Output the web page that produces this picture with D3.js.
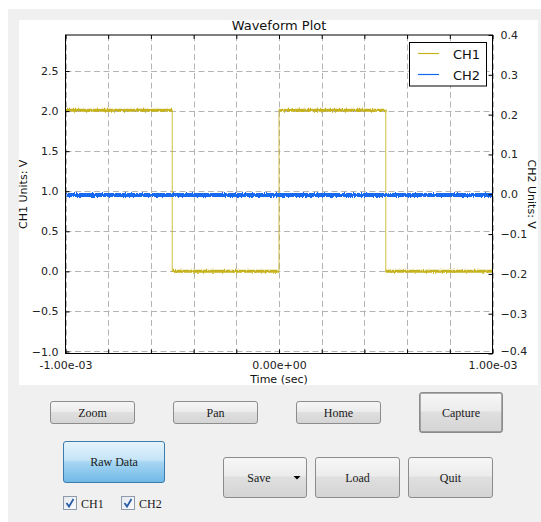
<!DOCTYPE html>
<html>
<head>
<meta charset="utf-8">
<script src="https://cdn.jsdelivr.net/npm/d3@7"></script>
<style>
  html, body { margin: 0; padding: 0; background: #ffffff; }
  svg { display: block; }
  .tick text { font-family: "DejaVu Sans", sans-serif; }
</style>
</head>
<body>
<svg id="chart" width="541" height="522"></svg>
<script>
// ---------- data ----------
const title = "Waveform Plot";
const xLabel = "Time (sec)";
const yLeftLabel = "CH1 Units: V";
const yRightLabel = "CH2 Units: V";

// CH1: square wave (edges), volts on left axis
const ch1Time  = [-1.0e-3, -5.0e-4, -5.0e-4, 0.0, 0.0, 5.0e-4, 5.0e-4, 1.0e-3, 1.0e-3];
const ch1Value = [2.01, 2.01, 0.0, 0.0, 2.01, 2.01, 0.0, 0.0, 0.64];
// CH2: flat trace, volts on right axis
const ch2Time  = [-1.0e-3, 1.0e-3];
const ch2Value = [-0.002, -0.002];

const xTickValues = [-1.0e-3, -8e-4, -6e-4, -4e-4, -2e-4, 0, 2e-4, 4e-4, 6e-4, 8e-4, 1.0e-3];
const xTickLabels = {"-0.001": "-1.00e-03", "0": "0.00e+00", "0.001": "1.00e-03"};
const yLeftTicks  = [-1.0, -0.5, 0.0, 0.5, 1.0, 1.5, 2.0, 2.5];
const yRightTicks = [-0.4, -0.3, -0.2, -0.1, 0.0, 0.1, 0.2, 0.3, 0.4];

const seriesNames  = ["CH1", "CH2"];
const seriesColors = ["#c6b21a", "#1269f0"];

const buttons = [
  {label: "Zoom",    x: 50,  y: 401, w: 85,  h: 23},
  {label: "Pan",     x: 173, y: 401, w: 85,  h: 23},
  {label: "Home",    x: 296, y: 401, w: 85,  h: 23},
  {label: "Capture", x: 419, y: 392, w: 84,  h: 41, focus: true},
  {label: "Raw Data",x: 63,  y: 441, w: 102, h: 42, blue: true},
  {label: "Save",    x: 223, y: 457, w: 84,  h: 41, dropdown: true},
  {label: "Load",    x: 315, y: 457, w: 85,  h: 41},
  {label: "Quit",    x: 408, y: 457, w: 85,  h: 41}
];
const checkboxes = [
  {label: "CH1", x: 63,  y: 496},
  {label: "CH2", x: 121, y: 496}
];

// ---------- drawing ----------
const svg = d3.select("#chart");
const defs = svg.append("defs");

const gBtn = defs.append("linearGradient").attr("id", "btnGrad").attr("x1", 0).attr("y1", 0).attr("x2", 0).attr("y2", 1);
gBtn.append("stop").attr("offset", "0%").attr("stop-color", "#f7f7f7");
gBtn.append("stop").attr("offset", "45%").attr("stop-color", "#ececec");
gBtn.append("stop").attr("offset", "50%").attr("stop-color", "#dfdfdf");
gBtn.append("stop").attr("offset", "100%").attr("stop-color", "#d4d4d4");

const gBlue = defs.append("linearGradient").attr("id", "blueGrad").attr("x1", 0).attr("y1", 0).attr("x2", 0).attr("y2", 1);
gBlue.append("stop").attr("offset", "0%").attr("stop-color", "#e6f4fc");
gBlue.append("stop").attr("offset", "45%").attr("stop-color", "#c4e4f7");
gBlue.append("stop").attr("offset", "50%").attr("stop-color", "#a7d6f2");
gBlue.append("stop").attr("offset", "100%").attr("stop-color", "#6fb8e6");

const gChk = defs.append("linearGradient").attr("id", "chkGrad").attr("x1", 0).attr("y1", 0).attr("x2", 1).attr("y2", 1);
gChk.append("stop").attr("offset", "0%").attr("stop-color", "#e4e8ee");
gChk.append("stop").attr("offset", "100%").attr("stop-color", "#fbfcfd");

// noise texture filter for the traces (user-space region so flat lines survive)
const filt = defs.append("filter").attr("id", "noisy").attr("filterUnits", "userSpaceOnUse")
  .attr("x", 0).attr("y", 0).attr("width", 541).attr("height", 522);
filt.append("feTurbulence").attr("type", "fractalNoise").attr("baseFrequency", "0.9 0.3")
  .attr("numOctaves", 1).attr("seed", 3).attr("result", "turb");
filt.append("feDisplacementMap").attr("in", "SourceGraphic").attr("in2", "turb")
  .attr("scale", 4).attr("xChannelSelector", "R").attr("yChannelSelector", "G");

// window background
svg.append("rect").attr("x", 8).attr("y", 9).attr("width", 533).attr("height", 513).attr("fill", "#f0f0f0");
svg.append("rect").attr("x", 19).attr("y", 20).attr("width", 519).attr("height", 365).attr("fill", "#ffffff");

const L = 65.5, R = 492.5, T = 35, B = 353.5;
const x  = d3.scaleLinear().domain([-1.0e-3, 1.0e-3]).range([L, R]);
const yL = d3.scaleLinear().domain([-1.025, 2.95]).range([B, T]);
const yR = d3.scaleLinear().domain([-0.4, 0.4]).range([B, T]);

const minus = v => (v < 0 ? "\u2212" : "") + Math.abs(v).toFixed(1);

// grid
const grid = svg.append("g").attr("stroke", "#b4b4b4").attr("stroke-width", 1).attr("stroke-dasharray", "6,3.5");
grid.selectAll("line.v").data(xTickValues).join("line")
  .attr("x1", d => Math.round(x(d)) + 0.5).attr("x2", d => Math.round(x(d)) + 0.5)
  .attr("y1", T).attr("y2", B);
grid.selectAll("line.h").data(yLeftTicks).join("line")
  .attr("y1", d => Math.round(yL(d)) + 0.5).attr("y2", d => Math.round(yL(d)) + 0.5)
  .attr("x1", L).attr("x2", R);

// traces
const clip = defs.append("clipPath").attr("id", "plotClip");
clip.append("rect").attr("x", L).attr("y", T).attr("width", R - L).attr("height", B - T);
const plot = svg.append("g").attr("clip-path", "url(#plotClip)");

const ch1 = ch1Time.map((t, i) => [t, ch1Value[i]]);
const ch2 = ch2Time.map((t, i) => [t, ch2Value[i]]);

// thin full trace (edges)
plot.append("path").datum(ch1)
  .attr("fill", "none").attr("stroke", seriesColors[0]).attr("stroke-width", 1.1).attr("opacity", 0.75)
  .attr("d", d3.line().x(d => x(d[0])).y(d => yL(d[1])));
// plateaus (noisy band)
const plateaus = [];
for (let i = 0; i < ch1.length - 1; i++) {
  if (ch1[i][1] === ch1[i + 1][1]) plateaus.push([ch1[i], ch1[i + 1]]);
}
const pg = plot.append("g").attr("filter", "url(#noisy)");
pg.selectAll("path").data(plateaus).join("path")
  .attr("fill", "none").attr("stroke", seriesColors[0]).attr("stroke-width", 3)
  .attr("d", d3.line().x(d => x(d[0])).y(d => yL(d[1])));

plot.append("g").attr("filter", "url(#noisy)").append("path").datum(ch2)
  .attr("fill", "none").attr("stroke", seriesColors[1]).attr("stroke-width", 4)
  .attr("d", d3.line().x(d => x(d[0])).y(d => yR(d[1])));

// axes
const fontAx = "DejaVu Sans, sans-serif";
const xAxis = d3.axisBottom(x).tickValues(xTickValues).tickSize(-4).tickPadding(8)
  .tickFormat(d => xTickLabels[String(+d.toFixed(6))] || "");
const gx = svg.append("g").attr("transform", `translate(0,${B})`).call(xAxis);
const xAxisTop = d3.axisTop(x).tickValues(xTickValues).tickSize(-4).tickFormat("");
const gxt = svg.append("g").attr("transform", `translate(0,${T})`).call(xAxisTop);
const yAxisL = d3.axisLeft(yL).tickValues(yLeftTicks).tickSize(-4).tickPadding(7).tickFormat(minus);
const gyl = svg.append("g").attr("transform", `translate(${L},0)`).call(yAxisL);
const yAxisR = d3.axisRight(yR).tickValues(yRightTicks).tickSize(-4).tickPadding(8).tickFormat(minus);
const gyr = svg.append("g").attr("transform", `translate(${R},0)`).call(yAxisR);

[gx, gxt, gyl, gyr].forEach(g => {
  g.select(".domain").remove();
  g.selectAll(".tick line").attr("stroke", "#000");
  g.selectAll(".tick text").attr("font-size", 11).attr("font-family", fontAx).attr("fill", "#222");
});
// lowest right tick label sits just above the x tick labels
gyr.selectAll(".tick text").filter(d => d === -0.4).attr("dy", "0.1em");

// spines
svg.append("rect").attr("x", L).attr("y", T).attr("width", R - L).attr("height", B - T)
  .attr("fill", "none").attr("stroke", "#000").attr("stroke-width", 1);

// title and labels
svg.append("text").attr("x", (L + R) / 2).attr("y", 30).attr("text-anchor", "middle")
  .attr("font-family", fontAx).attr("font-size", 13).attr("fill", "#111").text(title);
svg.append("text").attr("x", (L + R) / 2).attr("y", 383).attr("text-anchor", "middle")
  .attr("font-family", fontAx).attr("font-size", 11).attr("fill", "#111").text(xLabel);
svg.append("text").attr("transform", `translate(27,${(T + B) / 2}) rotate(-90)`).attr("text-anchor", "middle")
  .attr("font-family", fontAx).attr("font-size", 11).attr("fill", "#111").text(yLeftLabel);
svg.append("text").attr("transform", `translate(528,${(T + B) / 2}) rotate(90)`).attr("text-anchor", "middle")
  .attr("font-family", fontAx).attr("font-size", 11).attr("fill", "#111").text(yRightLabel);

// legend
const lg = svg.append("g");
lg.append("rect").attr("x", 409.5).attr("y", 42.5).attr("width", 77).attr("height", 43.5)
  .attr("fill", "#fff").attr("stroke", "#000").attr("stroke-width", 1);
seriesNames.forEach((name, i) => {
  const yy = 53.5 + i * 21;
  lg.append("line").attr("x1", 418).attr("x2", 439).attr("y1", yy).attr("y2", yy)
    .attr("stroke", seriesColors[i]).attr("stroke-width", 1.2);
  lg.append("text").attr("x", 453).attr("y", yy + 5).attr("font-family", fontAx).attr("font-size", 13)
    .attr("fill", "#111").text(name);
});

// buttons
const fontBtn = "Liberation Serif, DejaVu Serif, serif";
buttons.forEach(b => {
  const g = svg.append("g");
  g.append("rect").attr("x", b.x + 0.5).attr("y", b.y + 0.5).attr("width", b.w - 1).attr("height", b.h - 1)
    .attr("rx", 2.5).attr("fill", b.blue ? "url(#blueGrad)" : "url(#btnGrad)")
    .attr("stroke", b.blue ? "#3d7bad" : "#8c8c8c");
  if (b.focus) {
    g.append("rect").attr("x", b.x + 1.5).attr("y", b.y + 1.5).attr("width", b.w - 3).attr("height", b.h - 3)
      .attr("fill", "none").attr("stroke", "#666").attr("stroke-dasharray", "1,1");
  }
  const tx = b.dropdown ? b.x + b.w / 2 - 6 : b.x + b.w / 2;
  g.append("text").attr("x", tx).attr("y", b.y + b.h / 2 + 4).attr("text-anchor", "middle")
    .attr("font-family", fontBtn).attr("font-size", 12).attr("fill", "#1a1a1a").text(b.label);
  if (b.dropdown) {
    const ax = b.x + b.w - 10, ay = b.y + b.h / 2;
    g.append("path").attr("d", `M${ax - 3.5},${ay - 1.5} L${ax + 3.5},${ay - 1.5} L${ax},${ay + 2} Z`).attr("fill", "#000");
  }
});

// checkboxes
checkboxes.forEach(c => {
  const g = svg.append("g");
  g.append("rect").attr("x", c.x + 0.5).attr("y", c.y + 0.5).attr("width", 13).attr("height", 13)
    .attr("fill", "url(#chkGrad)").attr("stroke", "#8f9bab");
  g.append("path").attr("d", `M${c.x + 3.5},${c.y + 7} L${c.x + 6},${c.y + 10.5} L${c.x + 10.5},${c.y + 3}`)
    .attr("fill", "none").attr("stroke", "#2b5ea8").attr("stroke-width", 1.8);
  g.append("text").attr("x", c.x + 18).attr("y", c.y + 11.5)
    .attr("font-family", fontBtn).attr("font-size", 12).attr("fill", "#1a1a1a").text(c.label);
});
</script>
</body>
</html>
